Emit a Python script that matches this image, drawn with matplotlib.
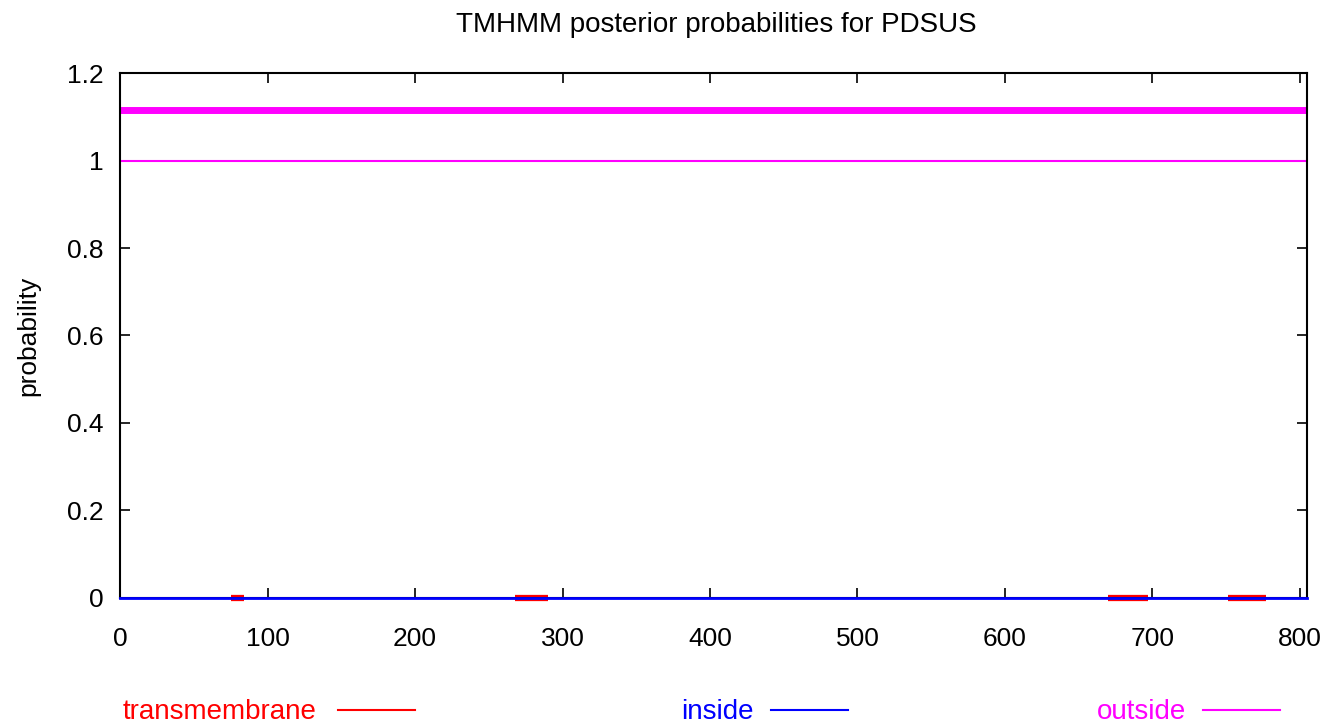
import matplotlib.pyplot as plt
from matplotlib.ticker import FuncFormatter

# sequence length and predicted topology / probabilities
seq_len = 805
outside_bar_y = 1.115
outside_prob = 1.0
inside_prob = 0.0
tm_segments = [(75, 84), (268, 290), (670, 697), (751, 777)]
tm_level = 0.0

x_ticks = [0, 100, 200, 300, 400, 500, 600, 700, 800]
y_ticks = [0, 0.2, 0.4, 0.6, 0.8, 1.0, 1.2]

plt.rcParams['font.family'] = ['Liberation Sans', 'DejaVu Sans']
FS = 19
FS_TXT = 20

fig = plt.figure(figsize = (13.37, 7.28), dpi = 100)
ax = fig.add_axes([0.0898, 0.1786, 0.888, 0.7211])

ax.plot([0, seq_len], [outside_bar_y, outside_bar_y], color = '#ff00ff', lw = 5, solid_capstyle = 'butt')
ax.plot([0, seq_len], [outside_prob, outside_prob], color = '#ff00ff', lw = 1.5)
for a, b in tm_segments:
  ax.plot([a, b], [tm_level, tm_level], color = 'red', lw = 4.5, solid_capstyle = 'butt', zorder = 2, clip_on = False)
ax.plot([0, seq_len], [inside_prob, inside_prob], color = 'blue', lw = 2, zorder = 4, clip_on = False)

ax.set_xlim(0, seq_len)
ax.set_ylim(0, 1.2)
ax.set_xticks(x_ticks)
ax.set_yticks(y_ticks)
ax.yaxis.set_major_formatter(FuncFormatter(lambda v, p: "{:g}".format(round(v, 1))))
ax.tick_params(direction = 'in', top = True, right = True, length = 7, width = 1.2, labelsize = FS)
ax.tick_params(axis = 'x', pad = 21)
ax.tick_params(axis = 'y', pad = 12)
for s in ax.spines.values():
  s.set_linewidth(1.5)

ax.set_ylabel("probability", fontsize = FS)
ax.yaxis.set_label_coords(-0.0675, 0.5)
fig.text(716 / 1337, 1 - 25 / 728, "TMHMM posterior probabilities for PDSUS", fontsize = FS_TXT, ha = 'center', va = 'center')

# legend row under the plot
legend = [("transmembrane", 'red', 123, 338), ("inside", 'blue', 681, 771), ("outside", '#ff00ff', 1097, 1203)]
for label, col, tx, lx in legend:
  fig.text(tx / 1337, 1 - 712 / 728, label, color = col, fontsize = FS_TXT, va = 'center', ha = 'left')
  fig.add_artist(plt.Line2D([lx / 1337, (lx + 77) / 1337], [1 - 710 / 728] * 2, color = col, lw = 1.5))

fig.savefig("out.png", dpi = 100)
